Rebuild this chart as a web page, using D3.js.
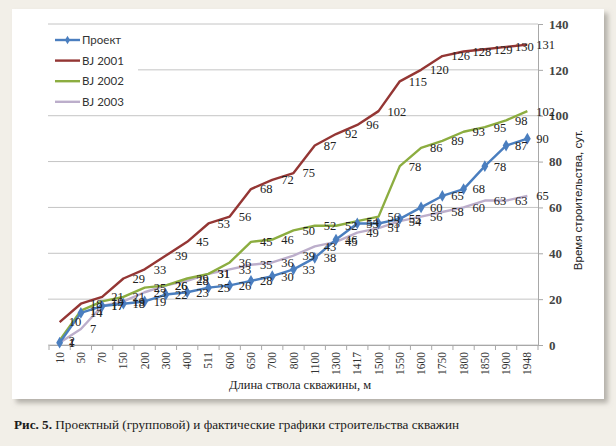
<!DOCTYPE html>
<html>
<head>
<meta charset="utf-8">
<script src="https://cdn.jsdelivr.net/npm/d3@7"></script>
<style>
  body { margin: 0; background: #f2efe8; }
  svg { display: block; }
</style>
</head>
<body>
<div id="chart"></div>
<script>
// категории (длина ствола, м)
const categories = ['10','50','70','150','200','300','400','511','600','650','700','800',
                    '1100','1300','1417','1500','1550','1600','1750','1800','1850','1900','1948'];
// время строительства, сут.
const proekt = [1,14,17,18,19,22,23,25,26,28,30,33,38,46,53,53,55,60,65,68,78,87,90];
const bj2001 = [10,18,21,29,33,39,45,53,56,68,72,75,87,92,96,102,115,120,126,128,129,130,131];
const bj2002 = [2,15,19,21,25,26,29,31,36,45,46,50,52,52,54,56,78,86,89,93,95,98,102];
const bj2003 = [1,7,17,19,23,26,28,31,33,35,36,39,43,45,49,51,54,56,58,60,63,63,65];
const yTicks = [0,20,40,60,80,100,120,140];
const seriesNames = ['Проект','BJ 2001','BJ 2002','BJ 2003'];

const W = 616, H = 446;
const svg = d3.select('#chart').append('svg').attr('width', W).attr('height', H);

// тень карточки
const defs = svg.append('defs');
const f = defs.append('filter').attr('id','sh').attr('x','-5%').attr('y','-5%').attr('width','115%').attr('height','115%');
f.append('feDropShadow').attr('dx',4).attr('dy',4).attr('stdDeviation',2.5)
  .attr('flood-color','#8a8780').attr('flood-opacity',0.6);

svg.append('rect').attr('x',12).attr('y',9).attr('width',592).attr('height',390)
   .attr('fill','#fff').attr('filter','url(#sh)');

const x = d3.scaleBand().domain(categories).range([49, 538]).padding(0);
const cx = c => x(c) + x.bandwidth()/2;
const y = d3.scaleLinear().domain([0, 140]).range([345, 24]);

// сетка
svg.append('g').selectAll('line').data(yTicks).join('line')
   .attr('x1', 48).attr('x2', 538)
   .attr('y1', d => y(d)).attr('y2', d => y(d))
   .attr('stroke', '#c4c4c4').attr('stroke-width', 1);

// ось Y справа
const yAxis = svg.append('g').attr('transform','translate(538,0)')
  .call(d3.axisRight(y).tickValues(yTicks).tickSize(5).tickPadding(6));
yAxis.select('.domain').attr('stroke','#a8a8a8');
yAxis.selectAll('.tick line').attr('stroke','#a8a8a8');
yAxis.selectAll('text').attr('font-family','Liberation Serif').attr('font-size',13)
     .attr('font-weight','bold').attr('fill','#444');

// ось X
const xAxis = svg.append('g').attr('transform','translate(0,345)')
  .call(d3.axisBottom(x).tickSize(0).tickPadding(0));
xAxis.select('.domain').attr('stroke','#a8a8a8');
xAxis.selectAll('text')
  .attr('font-family','Liberation Serif').attr('font-size',11.5).attr('fill','#333')
  .attr('transform','rotate(-90)').attr('text-anchor','end')
  .attr('x',-7).attr('y',0).attr('dy','0.35em');
// засечки между категориями
svg.append('g').selectAll('line').data(d3.range(categories.length + 1)).join('line')
   .attr('x1', i => 49 + i*x.bandwidth()).attr('x2', i => 49 + i*x.bandwidth())
   .attr('y1', 345).attr('y2', 350).attr('stroke','#a8a8a8');

const data = [
  {name: seriesNames[0], values: proekt, color: '#4a7ebf', marker: true},
  {name: seriesNames[1], values: bj2001, color: '#943634'},
  {name: seriesNames[2], values: bj2002, color: '#8cad40'},
  {name: seriesNames[3], values: bj2003, color: '#bcaecb'}
];

const line = d3.line().x((d,i) => cx(categories[i])).y(d => y(d));
const order = [3,2,1,0];
order.forEach(k => {
  const s = data[k];
  svg.append('path').datum(s.values).attr('d', line)
     .attr('fill','none').attr('stroke', s.color).attr('stroke-width', 2.4)
     .attr('stroke-linejoin','round');
  if (s.marker) {
    svg.append('g').selectAll('path').data(s.values).join('path')
       .attr('d', d3.symbol(d3.symbolDiamond, 40))
       .attr('transform', (d,i) => `translate(${cx(categories[i])},${y(d)})`)
       .attr('fill', s.color);
  }
});

// подписи данных
order.forEach(k => {
  const s = data[k];
  svg.append('g').selectAll('text').data(s.values).join('text')
     .attr('x', (d,i) => cx(categories[i]) + 9)
     .attr('y', d => y(d)).attr('dy','0.35em')
     .attr('font-family','Liberation Serif').attr('font-size',12.5)
     .attr('fill','#222')
     .text(d => d);
});

// легенда
const lg = svg.append('g');
lg.append('rect').attr('x',48).attr('y',28).attr('width',90).attr('height',84).attr('fill','#fff');
data.forEach((s,i) => {
  const ly = 40 + i*20.6;
  lg.append('line').attr('x1',55).attr('x2',80).attr('y1',ly).attr('y2',ly)
    .attr('stroke', s.color).attr('stroke-width',2.4);
  if (s.marker) lg.append('path').attr('d', d3.symbol(d3.symbolDiamond, 22))
    .attr('transform',`translate(67.5,${ly})`).attr('fill', s.color);
  lg.append('text').attr('x',82).attr('y',ly).attr('dy','0.35em')
    .attr('font-family','Lato').attr('font-size',11.5).attr('fill','#333').text(s.name);
});

// подписи осей
svg.append('text').attr('x',300).attr('y',389).attr('text-anchor','middle')
   .attr('font-family','Liberation Serif').attr('font-size',12.5).attr('fill','#222')
   .text('Длина ствола скважины, м');
svg.append('text').attr('transform','translate(582,200) rotate(-90)').attr('text-anchor','middle')
   .attr('font-family','Liberation Sans').attr('font-size',11.5).attr('fill','#222')
   .text('Время строительства, сут.');

// подпись рисунка
const cap = svg.append('text').attr('x',14).attr('y',429)
   .attr('font-family','Liberation Serif').attr('font-size',13.2).attr('fill','#1a1a1a');
cap.append('tspan').attr('font-weight','bold').text('Рис. 5.');
cap.append('tspan').text(' Проектный (групповой) и фактические графики строительства скважин');
</script>
</body>
</html>
